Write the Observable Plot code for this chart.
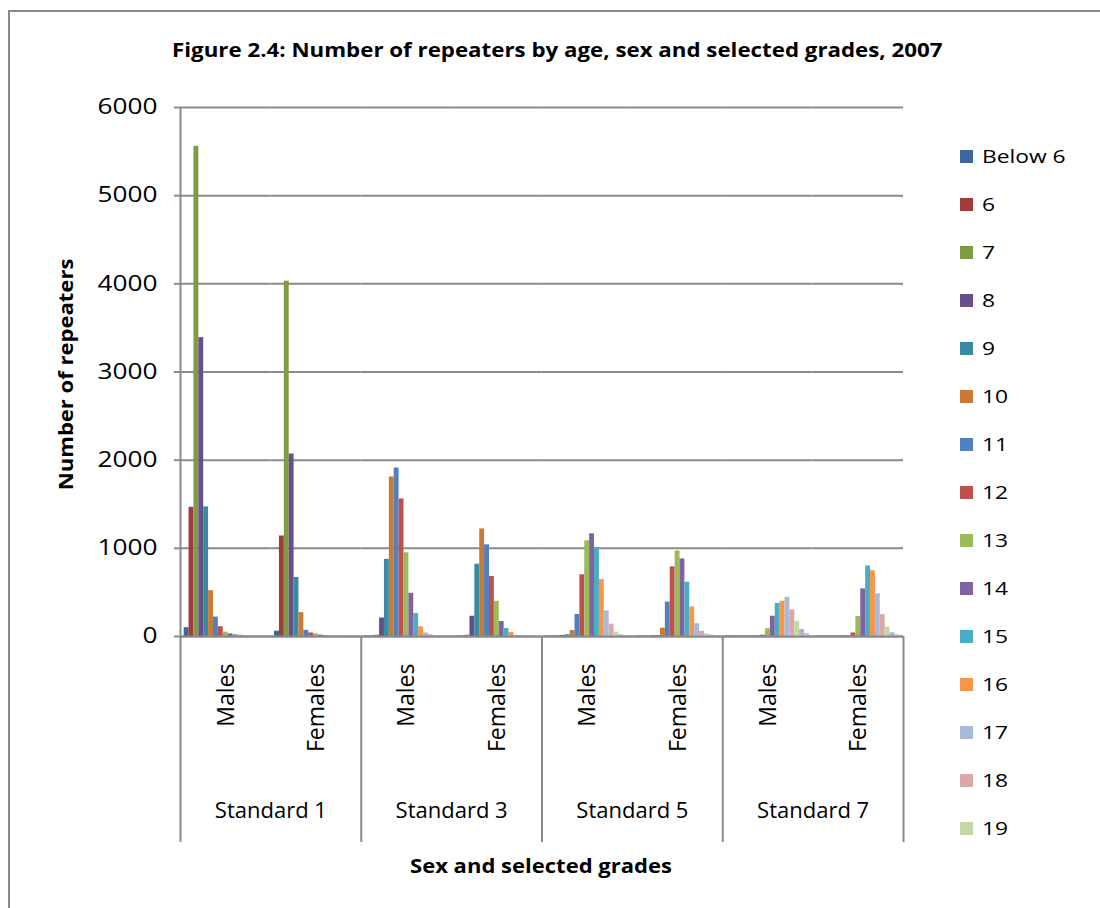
<!DOCTYPE html>
<html><head><meta charset="utf-8">
<script src="https://cdn.jsdelivr.net/npm/d3@7"></script>
<script src="https://cdn.jsdelivr.net/npm/@observablehq/plot@0.6"></script>
<style>
html,body{margin:0;padding:0;background:#fff;}
#wrap{position:relative;width:1100px;height:908px;overflow:hidden;font-family:"Open Sans",sans-serif;color:#000;background:#fff;}
#frame{position:absolute;left:8px;top:10px;width:1200px;height:1000px;border-top:2px solid #8a8a8a;border-left:2px solid #8a8a8a;box-sizing:border-box;}
#chart{position:absolute;left:0;top:0;}
.lbl{position:absolute;white-space:nowrap;line-height:1.2;}
.bold{font-weight:bold;}
.sw{position:absolute;width:13px;height:13px;}
</style></head><body>
<div id="wrap">
  <div id="frame"></div>
  <div id="chart"></div>
  <div id="title" class="lbl bold" style="font-size:19px">Figure 2.4: Number of repeaters by age, sex and selected grades, 2007</div>
  <div id="ytitle" class="lbl bold" style="font-size:19px">Number of repeaters</div>
  <div id="xtitle" class="lbl bold" style="font-size:19px">Sex and selected grades</div>
  <div id="legend"></div>
</div>
<script>
// ---------- data ----------
const ages = ["Below 6","6","7","8","9","10","11","12","13","14","15","16","17","18","19","20","21"];
const legendAges = ages.slice(0, 15); // the original legend is truncated after "19"
const colors = ["#3D679C","#A03D3A","#7E9B46","#674F87","#378BA3","#CB7A35","#4F81BD","#C0504D","#9BBB59","#8064A2","#4BACC6","#F79646","#A8B9D9","#D9A8A7","#C5D7A2","#B9ADCB","#A5D3E0"];
const grades = ["Standard 1","Standard 3","Standard 5","Standard 7"];
const sexes = ["Males","Females"];
const yTicks = [0,1000,2000,3000,4000,5000,6000];

const standard1Males   = [100,1465,5560,3390,1470,520,220,110,50,30,20,15,10,5,5,3,2];
const standard1Females = [60,1140,4030,2070,670,270,70,40,30,15,10,8,5,3,2,2,1];
const standard3Males   = [5,5,15,210,875,1810,1910,1560,950,490,260,110,40,20,8,5,3];
const standard3Females = [3,5,15,230,820,1220,1040,680,400,170,90,45,15,8,5,3,2];
const standard5Males   = [5,5,8,12,20,68,250,700,1085,1165,1010,645,290,140,50,18,10];
const standard5Females = [5,5,5,8,10,95,390,790,970,880,615,335,145,60,30,15,10];
const standard7Males   = [5,5,5,5,5,8,8,15,88,230,375,400,444,302,172,80,35];
const standard7Females = [5,5,5,5,5,8,10,40,228,540,800,745,484,248,106,42,20];

const byGrade = {
  "Standard 1": [standard1Males, standard1Females],
  "Standard 3": [standard3Males, standard3Females],
  "Standard 5": [standard5Males, standard5Females],
  "Standard 7": [standard7Males, standard7Females]
};
const keys = grades.flatMap(g => sexes.map(s => `${g} ${s}`));
const rows = grades.flatMap(g => sexes.flatMap((s, j) =>
  ages.map((a, i) => ({key: `${g} ${s}`, grade: g, sex: s, age: a, value: byGrade[g][j][i]}))));
const sexLabels = keys.map((k, i) => ({key: k, sex: sexes[i % 2]}));
const gradeLabels = grades.map(g => ({key: `${g} Females`, grade: g}));

// ---------- layout ----------
const W = 1100, H = 908, mL = 180, mR = 197, mT = 107, mB = 272;
const GRID = "#8a8a8a";
const step = (W - mL - mR) / keys.length / (ages.length + 1.5);
const sepDepth = 206; // px the category separators extend below the baseline
const below = -yTicks[yTicks.length - 1] * sepDepth / (H - mT - mB);
const leftKeys = keys.filter((k, i) => i % 2 === 0);

const chart = Plot.plot({
  width: W, height: H,
  marginLeft: mL, marginRight: mR, marginTop: mT, marginBottom: mB,
  style: {fontFamily: "'Open Sans', sans-serif", color: "#000", background: "transparent", overflow: "visible"},
  fx: {domain: keys, padding: 0, round: false, axis: null},
  x: {domain: ages, paddingInner: 0, paddingOuter: 0.75, round: false, axis: null},
  y: {domain: [0, yTicks[yTicks.length - 1]], axis: null},
  color: {domain: ages, range: colors},
  marks: [
    Plot.gridY(yTicks, {stroke: GRID, strokeOpacity: 1, strokeWidth: 2}),
    Plot.barY(rows, {fx: "key", x: "age", y: "value", fill: "age"}),
    Plot.ruleY([0], {stroke: GRID, strokeWidth: 2}),
    Plot.ruleX(leftKeys, {fx: d => d, x: () => ages[0], dx: -1.25 * step,
      y1: d => d === keys[0] ? yTicks[yTicks.length - 1] : 0, y2: below, stroke: GRID, strokeWidth: 2}),
    Plot.ruleX([keys[keys.length - 1]], {fx: d => d, x: () => ages[ages.length - 1], dx: 1.25 * step,
      y1: 0, y2: below, stroke: GRID, strokeWidth: 2}),
    Plot.axisY({ticks: yTicks, label: null, tickSize: 6, tickPadding: 17, tickFormat: d => String(d),
      fontSize: 21, stroke: GRID, strokeWidth: 2, fill: "#000", ariaLabel: "y-axis"}),
    Plot.text(sexLabels, {fx: "key", text: "sex", frameAnchor: "bottom", rotate: -90,
      textAnchor: "end", dx: 8, dy: 27, fontSize: 23, fill: "#000", ariaLabel: "sex-label"}),
    Plot.text(gradeLabels, {fx: "key", text: "grade", frameAnchor: "bottom-left", textAnchor: "middle",
      dy: 181, fontSize: 22, fill: "#000", ariaLabel: "grade-label"})
  ]
});
document.getElementById("chart").appendChild(chart);

// horizontally stretch SVG texts (the original picture is stretched sideways)
function stretchTexts(selector, sample, target) {
  const texts = [...chart.querySelectorAll(selector)];
  if (!texts.length) return;
  const ref = texts.find(t => t.textContent === sample) || texts[0];
  const len = ref.getComputedTextLength();
  if (!len) return;
  const s = target / len;
  texts.forEach(t => {
    let tr = t.getAttribute("transform");
    if (!tr) {
      const x = t.getAttribute("x") || 0, y = t.getAttribute("y") || 0;
      t.removeAttribute("x"); t.removeAttribute("y");
      tr = `translate(${x},${y})`;
    }
    t.setAttribute("transform", `${tr} scale(${s},1)`);
  });
}
stretchTexts('g[aria-label="y-axis tick label"] text', "6000", 60);
stretchTexts('g[aria-label="grade-label"] text', "Standard 1", 118);

// ---------- legend ----------
const legend = document.getElementById("legend");
legendAges.forEach((a, i) => {
  const cy = 156 + i * 48.07;
  const sw = document.createElement("div");
  sw.className = "sw";
  sw.style.left = "960px"; sw.style.top = (cy - 6.5) + "px";
  sw.style.background = colors[i];
  legend.appendChild(sw);
  const t = document.createElement("div");
  t.className = "lbl legtext";
  t.style.fontSize = "19px";
  t.textContent = a;
  t.dataset.cy = cy;
  legend.appendChild(t);
});

function place(el, cx, cy, target, rot) {
  el.style.transform = "none";
  const w = el.offsetWidth, h = el.offsetHeight;
  const s = target ? target / w : 1;
  el.style.left = (cx - w / 2) + "px";
  el.style.top = (cy - h / 2) + "px";
  el.style.transformOrigin = "50% 50%";
  el.style.transform = (rot ? `rotate(${rot}deg) ` : "") + `scaleX(${s})`;
}
function layout() {
  place(document.getElementById("title"), 557, 50, 771, 0);
  place(document.getElementById("ytitle"), 67, 374, 232, -90);
  place(document.getElementById("xtitle"), 541, 866, 262, 0);
  const texts = [...document.querySelectorAll(".legtext")];
  texts.forEach(t => t.style.transform = "none");
  const s = 84 / texts[0].offsetWidth;
  texts.forEach(t => {
    t.style.left = "982px";
    t.style.top = (+t.dataset.cy - t.offsetHeight / 2) + "px";
    t.style.transformOrigin = "0 50%";
    t.style.transform = `scaleX(${s})`;
  });
}
layout();
if (document.fonts) document.fonts.ready.then(layout);
</script>
</body></html>
